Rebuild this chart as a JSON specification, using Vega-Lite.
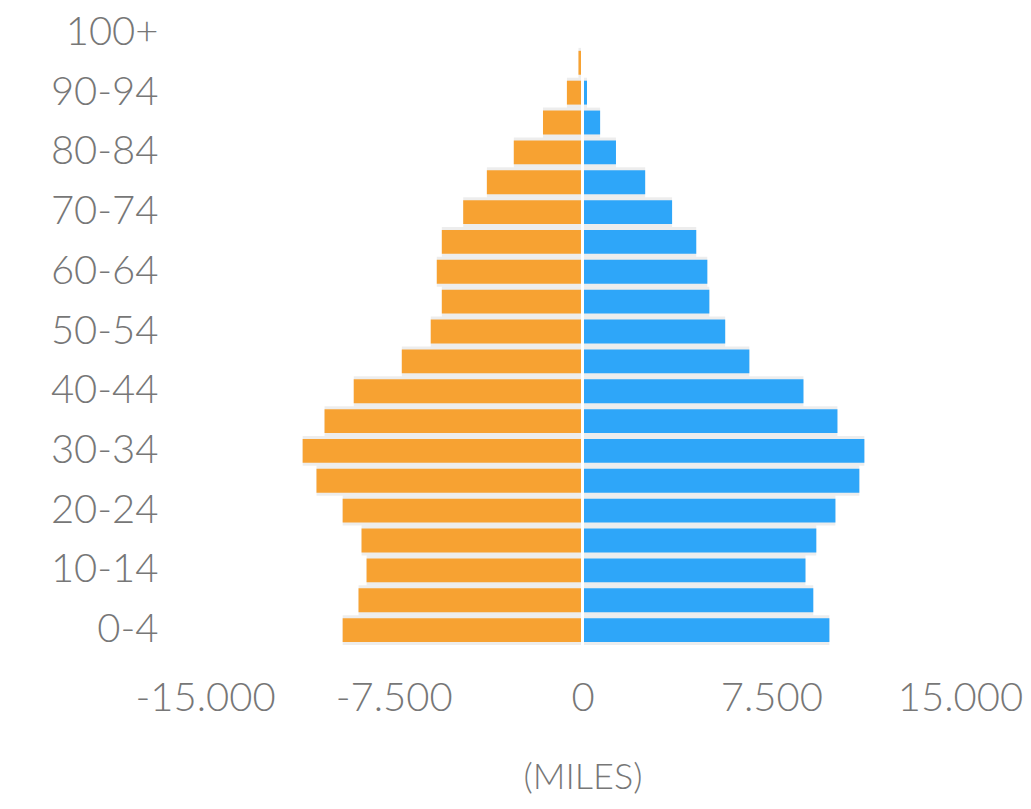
{
  "$schema": "https://vega.github.io/schema/vega-lite/v6.json",
  "autosize": "none",
  "width": 755,
  "height": 627,
  "padding": {"left": 205, "top": 18, "right": 71, "bottom": 164},
  "background": "white",
  "config": {
    "locale": {"number": {"decimal": ",", "thousands": ".", "grouping": [3], "currency": ["", " €"], "minus": "-"}},
    "view": {"stroke": null},
    "font": "Lato"
  },
  "data": {
    "values": [
      {"edad": "100+", "sexo": "Hombres", "poblacion": -10},
      {"edad": "100+", "sexo": "Mujeres", "poblacion": 5},
      {"edad": "95-99", "sexo": "Hombres", "poblacion": -160},
      {"edad": "95-99", "sexo": "Mujeres", "poblacion": 20},
      {"edad": "90-94", "sexo": "Hombres", "poblacion": -620},
      {"edad": "90-94", "sexo": "Mujeres", "poblacion": 180},
      {"edad": "85-89", "sexo": "Hombres", "poblacion": -1570},
      {"edad": "85-89", "sexo": "Mujeres", "poblacion": 700},
      {"edad": "80-84", "sexo": "Hombres", "poblacion": -2730},
      {"edad": "80-84", "sexo": "Mujeres", "poblacion": 1330},
      {"edad": "75-79", "sexo": "Hombres", "poblacion": -3800},
      {"edad": "75-79", "sexo": "Mujeres", "poblacion": 2490},
      {"edad": "70-74", "sexo": "Hombres", "poblacion": -4740},
      {"edad": "70-74", "sexo": "Mujeres", "poblacion": 3560},
      {"edad": "65-69", "sexo": "Hombres", "poblacion": -5590},
      {"edad": "65-69", "sexo": "Mujeres", "poblacion": 4520},
      {"edad": "60-64", "sexo": "Hombres", "poblacion": -5790},
      {"edad": "60-64", "sexo": "Mujeres", "poblacion": 4960},
      {"edad": "55-59", "sexo": "Hombres", "poblacion": -5590},
      {"edad": "55-59", "sexo": "Mujeres", "poblacion": 5040},
      {"edad": "50-54", "sexo": "Hombres", "poblacion": -6030},
      {"edad": "50-54", "sexo": "Mujeres", "poblacion": 5670},
      {"edad": "45-49", "sexo": "Hombres", "poblacion": -7180},
      {"edad": "45-49", "sexo": "Mujeres", "poblacion": 6630},
      {"edad": "40-44", "sexo": "Hombres", "poblacion": -9090},
      {"edad": "40-44", "sexo": "Mujeres", "poblacion": 8780},
      {"edad": "35-39", "sexo": "Hombres", "poblacion": -10250},
      {"edad": "35-39", "sexo": "Mujeres", "poblacion": 10130},
      {"edad": "30-34", "sexo": "Hombres", "poblacion": -11120},
      {"edad": "30-34", "sexo": "Mujeres", "poblacion": 11200},
      {"edad": "25-29", "sexo": "Hombres", "poblacion": -10570},
      {"edad": "25-29", "sexo": "Mujeres", "poblacion": 11000},
      {"edad": "20-24", "sexo": "Hombres", "poblacion": -9530},
      {"edad": "20-24", "sexo": "Mujeres", "poblacion": 10050},
      {"edad": "15-19", "sexo": "Hombres", "poblacion": -8780},
      {"edad": "15-19", "sexo": "Mujeres", "poblacion": 9290},
      {"edad": "10-14", "sexo": "Hombres", "poblacion": -8580},
      {"edad": "10-14", "sexo": "Mujeres", "poblacion": 8860},
      {"edad": "5-9", "sexo": "Hombres", "poblacion": -8900},
      {"edad": "5-9", "sexo": "Mujeres", "poblacion": 9170},
      {"edad": "0-4", "sexo": "Hombres", "poblacion": -9530},
      {"edad": "0-4", "sexo": "Mujeres", "poblacion": 9810}
    ]
  },
  "layer": [
    {
      "mark": {"type": "bar", "color": "#000000", "opacity": 0.07, "height": {"band": 1.25}},
      "encoding": {
        "y": {
          "field": "edad",
          "type": "nominal",
          "scale": {
            "domain": ["100+","95-99","90-94","85-89","80-84","75-79","70-74","65-69","60-64","55-59","50-54","45-49","40-44","35-39","30-34","25-29","20-24","15-19","10-14","5-9","0-4"],
            "paddingInner": 0.2,
            "paddingOuter": 0.1
          },
          "axis": {
            "title": null,
            "values": ["100+","90-94","80-84","70-74","60-64","50-54","40-44","30-34","20-24","10-14","0-4"],
            "domain": false,
            "ticks": false,
            "labelPadding": 47,
            "labelFontSize": 40,
            "labelColor": "#777777",
            "labelFont": "Lato",
            "labelFontWeight": 300
          }
        },
        "x": {"field": "poblacion", "type": "quantitative"},
        "x2": {"datum": 0}
      }
    },
    {
      "mark": {"type": "bar"},
      "encoding": {
        "y": {"field": "edad", "type": "nominal"},
        "x": {
          "field": "poblacion",
          "type": "quantitative",
          "scale": {"domain": [-15000, 15000], "nice": false},
          "axis": {
            "title": "(MILES)",
            "values": [-15000, -7500, 0, 7500, 15000],
            "format": ",d",
            "grid": false,
            "domain": false,
            "ticks": false,
            "labelPadding": 33,
            "labelFontSize": 40,
            "labelColor": "#777777",
            "labelFont": "Lato",
            "labelFontWeight": 300,
            "labelFlush": false,
            "labelOverlap": false,
            "titlePadding": 42,
            "titleFontSize": 36,
            "titleFontWeight": 300,
            "titleColor": "#777777",
            "titleFont": "Lato"
          }
        },
        "x2": {"datum": 0},
        "color": {
          "field": "sexo",
          "type": "nominal",
          "scale": {"domain": ["Hombres", "Mujeres"], "range": ["#f7a232", "#2ea6f9"]},
          "legend": null
        }
      }
    },
    {
      "mark": {"type": "rule", "color": "white", "strokeWidth": 3},
      "encoding": {"x": {"datum": 0}}
    }
  ]
}
